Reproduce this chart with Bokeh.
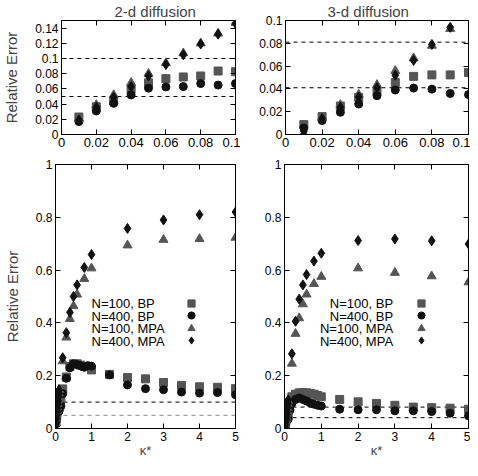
from bokeh.plotting import figure
from bokeh.models import Range1d, FixedTicker, LinearAxis, Span, Legend, LegendItem, Label
from bokeh.layouts import column, row
from bokeh.embed import file_html
from bokeh.resources import INLINE

FONT = "Liberation Sans"
GRAY = "#555555"
BLACK = "#111111"

# ---------------- data ----------------
kappa_small = [0.01, 0.02, 0.03, 0.04, 0.05, 0.06, 0.07, 0.08, 0.09, 0.1]
kappa_bp = kappa_small + [0.15, 0.2, 0.3, 0.4, 0.5, 0.6, 0.7, 0.8, 0.9, 1.0,
                          1.5, 2.0, 2.5, 3.0, 3.5, 4.0, 4.5, 5.0]
kappa_mpa = kappa_small + [0.2, 0.3, 0.4, 0.5, 0.6, 0.8, 1.0, 2.0, 3.0, 4.0, 5.0]

bp100_2d = [0.023, 0.0365, 0.044, 0.0595, 0.068, 0.0735, 0.0757, 0.077, 0.0835, 0.0826,
            0.11, 0.15, 0.195, 0.235, 0.245, 0.245, 0.24, 0.235, 0.235, 0.222,
            0.205, 0.193, 0.188, 0.174, 0.163, 0.158, 0.156, 0.151]
bp400_2d = [0.017, 0.031, 0.041, 0.052, 0.061, 0.0626, 0.063, 0.067, 0.065, 0.067,
            0.085, 0.132, 0.19, 0.23, 0.245, 0.242, 0.238, 0.232, 0.238, 0.236,
            0.203, 0.165, 0.151, 0.147, 0.138, 0.134, 0.136, 0.128]
mpa100_2d = [0.021, 0.039, 0.052, 0.068, 0.080, 0.094, 0.107, 0.12, 0.133, 0.147,
             0.255, 0.345, 0.415, 0.464, 0.508, 0.567, 0.607, 0.694, 0.715, 0.718, 0.723]
mpa400_2d = [0.019, 0.036, 0.049, 0.063, 0.077, 0.092, 0.105, 0.119, 0.132, 0.146,
             0.268, 0.363, 0.44, 0.50, 0.544, 0.61, 0.659, 0.758, 0.79, 0.81, 0.82]

bp100_3d = [0.0087, 0.0157, 0.025, 0.0326, 0.038, 0.0456, 0.051, 0.0523, 0.0523, 0.0544,
            0.10, 0.12, 0.13, 0.135, 0.136, 0.135, 0.133, 0.13, 0.125, 0.12,
            0.11, 0.101, 0.095, 0.088, 0.081, 0.079, 0.077, 0.073]
bp400_3d = [0.0058, 0.0122, 0.0195, 0.0267, 0.034, 0.039, 0.0407, 0.0398, 0.036, 0.035,
            0.07, 0.095, 0.11, 0.116, 0.11, 0.104, 0.097, 0.092, 0.088, 0.085,
            0.073, 0.071, 0.071, 0.067, 0.067, 0.064, 0.058, 0.048]
mpa100_3d = [0.001, 0.015, 0.026, 0.035, 0.0436, 0.0558, 0.067, 0.078, 0.0927, 0.105,
             0.246, 0.359, 0.418, 0.471, 0.508, 0.548, 0.575, 0.607, 0.59, 0.577, 0.554]
mpa400_3d = [0.003, 0.014, 0.024, 0.033, 0.041, 0.052, 0.065, 0.079, 0.094, 0.108,
             0.283, 0.406, 0.49, 0.544, 0.583, 0.634, 0.664, 0.712, 0.718, 0.711, 0.699]

ref_lines_2d = [0.1, 0.05]
ref_lines_3d = [0.081, 0.041]

series_labels = ["N=100, BP", "N=400, BP", "N=100, MPA", "N=400, MPA"]

titles = ["2-d diffusion", "3-d diffusion"]
y_title = "Relative Error"
x_title = "\u03ba*"

xticks_zoom = [0, 0.02, 0.04, 0.06, 0.08, 0.1]
xlabels_zoom = ["0", "0.02", "0.04", "0.06", "0.08", "0.1"]
yticks_2d_zoom = [0, 0.02, 0.04, 0.06, 0.08, 0.1, 0.12, 0.14]
ylabels_2d_zoom = ["0", "0.02", "0.04", "0.06", "0.08", "0.1", "0.12", "0.14"]
yticks_3d_zoom = [0, 0.02, 0.04, 0.06, 0.08, 0.1]
ylabels_3d_zoom = ["0", "0.02", "0.04", "0.06", "0.08", "0.1"]
xticks_full = [0, 1, 2, 3, 4, 5]
xlabels_full = ["0", "1", "2", "3", "4", "5"]
yticks_full = [0, 0.2, 0.4, 0.6, 0.8, 1]
ylabels_full = ["0", "0.2", "0.4", "0.6", "0.8", "1"]

# ---------------- layout constants ----------------
TOP_H = 154
BOT_H = 306
BOT_FRAME_H = 266
LEGEND_ROWS_PX = [125.5, 113.0, 100.5, 88.0]   # legend rows, px above frame bottom


def style_axis(ax, ticks, labels, show, size):
    ax.ticker = FixedTicker(ticks=ticks)
    ax.major_label_overrides = dict(zip(ticks, labels))
    ax.major_tick_in = 5
    ax.major_tick_out = 0
    ax.minor_tick_line_color = None
    ax.axis_line_color = "black"
    ax.major_tick_line_color = "black"
    ax.major_label_text_font = FONT
    if show:
        ax.major_label_text_color = "black"
        ax.major_label_text_font_size = size
        ax.major_label_standoff = 3
    else:
        ax.major_label_text_color = None
        ax.major_label_text_font_size = "1px"
        ax.major_label_standoff = 0


def make_fig(width, height, xr, yr, xt, xl, yt, yl, borders, xsize):
    bl, br, bt, bb = borders
    p = figure(width=width, height=height, x_range=Range1d(*xr), y_range=Range1d(*yr),
               output_backend="svg", toolbar_location=None,
               x_axis_type=None, y_axis_type=None,
               min_border_left=bl, min_border_right=br,
               min_border_top=bt, min_border_bottom=bb)
    p.outline_line_color = "black"
    p.background_fill_color = "white"
    p.border_fill_color = "white"
    for loc, t, l, show, size in [("below", xt, xl, True, xsize), ("above", xt, xl, False, "1px"),
                                  ("left", yt, yl, True, "12px"), ("right", yt, yl, False, "1px")]:
        ax = LinearAxis()
        style_axis(ax, t, l, show, size)
        p.add_layout(ax, loc)
    return p


def add_series(p, x_bp, x_mpa, b100, b400, m100, m400):
    rs = []
    rs.append(p.scatter(x_bp, b100, marker="square", size=8, fill_color=GRAY, line_color=GRAY))
    rs.append(p.scatter(x_bp, b400, marker="circle", size=8, fill_color=BLACK, line_color=BLACK))
    rs.append(p.scatter(x_mpa, m100, marker="triangle", size=9, fill_color=GRAY, line_color=GRAY))
    rs.append(p.scatter(x_mpa, m400, marker="diamond", size=10, fill_color=BLACK, line_color=BLACK))
    return rs


def add_lines(p, vals, colors):
    for v, c in zip(vals, colors):
        s = Span(location=v, dimension="width", line_color=c, line_dash="4 4", line_width=1,
                 level="underlay")
        p.add_layout(s)


def set_title(p, text, offset):
    p.title.text = text
    p.title.text_font = FONT
    p.title.text_font_size = "15px"
    p.title.text_font_style = "normal"
    p.title.align = "left"
    p.title.offset = offset
    p.title.standoff = 1


def set_ylabel(p, text, standoff):
    ax = p.left[0]
    ax.axis_label = text
    ax.axis_label_text_font = FONT
    ax.axis_label_text_font_size = "15px"
    ax.axis_label_text_font_style = "normal"
    ax.axis_label_standoff = standoff


def set_xlabel(p, text):
    ax = p.below[0]
    ax.axis_label = text
    ax.axis_label_text_font = FONT
    ax.axis_label_text_font_size = "13px"
    ax.axis_label_text_font_style = "normal"
    ax.axis_label_standoff = -1


def add_legend(p, rs, glyph_x_px, text_x, text_align):
    for r, lab, rowpx in zip(rs, series_labels, LEGEND_ROWS_PX):
        leg = Legend(items=[LegendItem(label=" ", renderers=[r])],
                     location=(glyph_x_px - 9, rowpx - 9),
                     glyph_width=18, glyph_height=18, label_height=18, label_width=0,
                     label_standoff=0, spacing=0, padding=0, margin=0,
                     background_fill_alpha=0, border_line_alpha=0,
                     label_text_font_size="11px", label_text_color=None)
        p.add_layout(leg)
        p.add_layout(Label(x=text_x, y=rowpx / BOT_FRAME_H, text=lab, text_font=FONT,
                           text_font_size="13px", text_baseline="middle",
                           text_align=text_align, text_color="black"))


# top-left: 2-d zoom   (frame x 57..235, y 20..134)
pA = make_fig(240, TOP_H, (0, 0.1), (0, 0.15), xticks_zoom, xlabels_zoom,
              yticks_2d_zoom, ylabels_2d_zoom, (57, 5, 20, 20), "13px")
add_lines(pA, ref_lines_2d, ["black", "black"])
add_series(pA, kappa_small, kappa_small, bp100_2d[:10], bp400_2d[:10], mpa100_2d[:10], mpa400_2d[:10])
set_title(pA, titles[0], 53)
set_ylabel(pA, y_title, 12)

# top-right: 3-d zoom   (frame x 285..468)
pB = make_fig(230, TOP_H, (0, 0.1), (0, 0.1), xticks_zoom, xlabels_zoom,
              yticks_3d_zoom, ylabels_3d_zoom, (45, 2, 20, 20), "13px")
add_lines(pB, ref_lines_3d, ["black", "black"])
add_series(pB, kappa_small, kappa_small, bp100_3d[:10], bp400_3d[:10], mpa100_3d[:10], mpa400_3d[:10])
set_title(pB, titles[1], 42)

# bottom-left: 2-d full   (frame x 50..235)
pC = make_fig(240, BOT_H, (0, 5), (0, 1), xticks_full, xlabels_full,
              yticks_full, ylabels_full, (50, 5, 10, 30), "12px")
add_lines(pC, ref_lines_2d, ["black", "#888888"])
rsC = add_series(pC, kappa_bp, kappa_mpa, bp100_2d, bp400_2d, mpa100_2d, mpa400_2d)
set_ylabel(pC, y_title, 12)
set_xlabel(pC, x_title)
add_legend(pC, rsC, 136, 1.0, "left")

# bottom-right: 3-d full   (frame x 284..468)
pD = make_fig(230, BOT_H, (0, 5), (0, 1), xticks_full, xlabels_full,
              yticks_full, ylabels_full, (44, 2, 10, 30), "12px")
add_lines(pD, ref_lines_3d, ["black", "black"])
rsD = add_series(pD, kappa_bp, kappa_mpa, bp100_3d, bp400_3d, mpa100_3d, mpa400_3d)
set_xlabel(pD, x_title)
add_legend(pD, rsD, 137, 2.95, "right")

layout = column(row(pA, pB), row(pC, pD))
open("out.html", "w").write(file_html(layout, INLINE))
